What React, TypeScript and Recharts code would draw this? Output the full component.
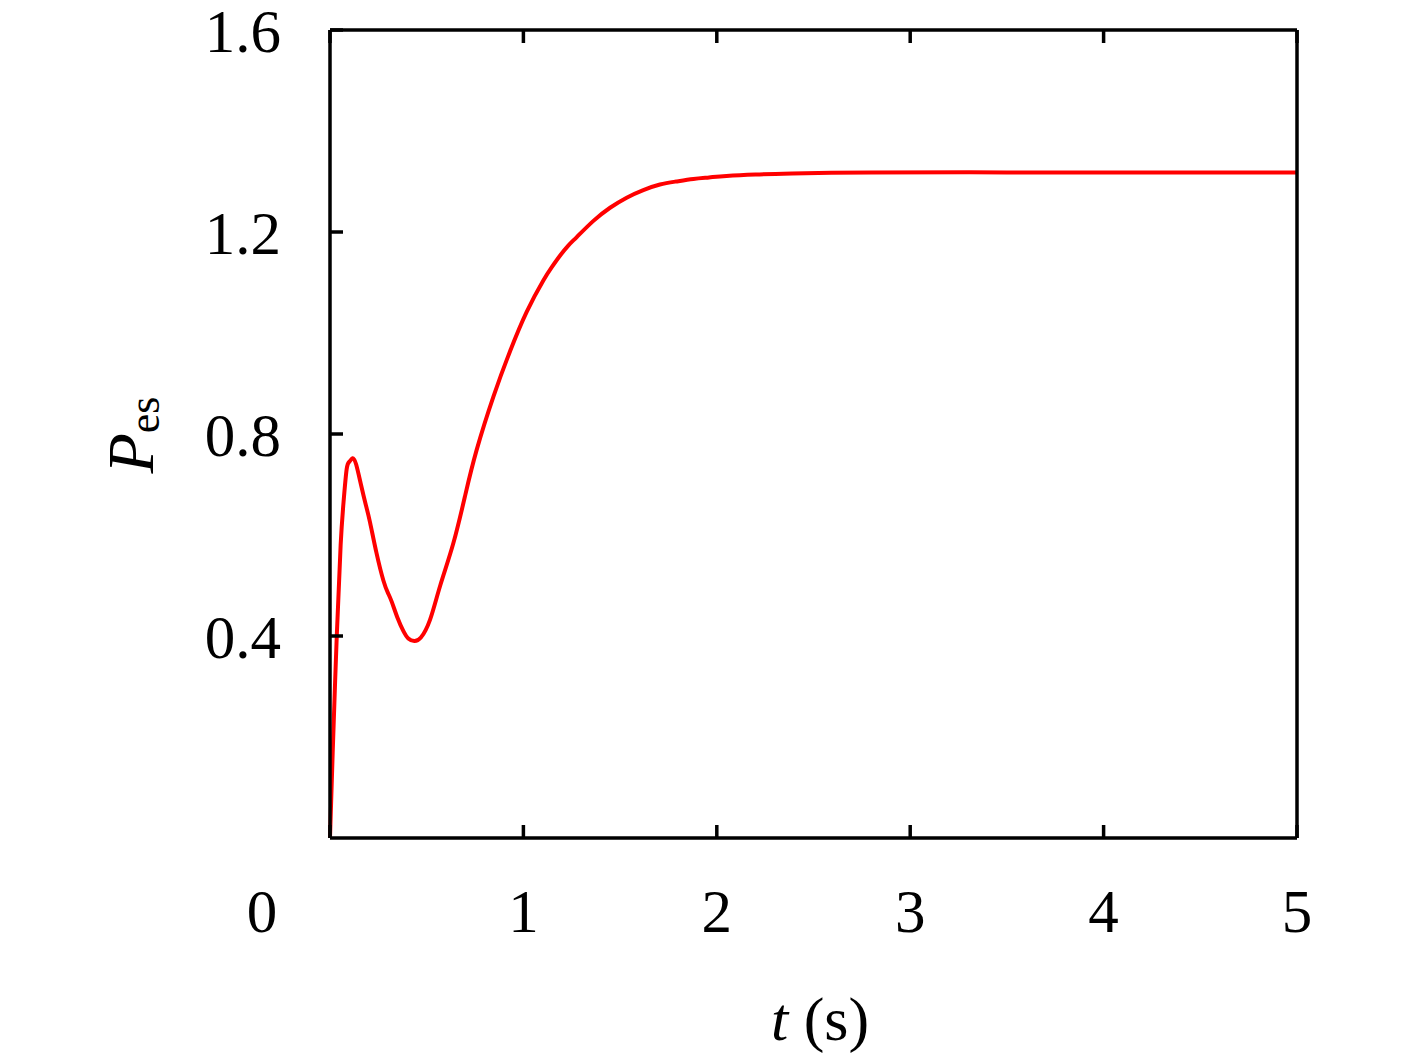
import { LineChart, Line, XAxis, YAxis } from "recharts";

// time (s) and P_es
const tValues = [
  0, 0.014, 0.035, 0.055, 0.07, 0.086, 0.1, 0.117, 0.135, 0.16, 0.185, 0.207,
  0.24, 0.276, 0.3, 0.319, 0.35, 0.379, 0.405, 0.436, 0.47, 0.517, 0.57, 0.638,
  0.7, 0.758, 0.845, 0.931, 1.017, 1.103, 1.146, 1.189, 1.232, 1.276, 1.362,
  1.448, 1.534, 1.62, 1.706, 1.79, 1.879, 1.96, 2.05, 2.2, 2.39, 2.8, 3.5, 4.2, 5,
];
const pValues = [
  0, 0.17, 0.4, 0.58, 0.665, 0.73, 0.745, 0.752, 0.74, 0.7, 0.66, 0.625, 0.565,
  0.51, 0.485, 0.468, 0.435, 0.41, 0.395, 0.39, 0.397, 0.432, 0.5, 0.584, 0.68,
  0.768, 0.874, 0.964, 1.042, 1.104, 1.13, 1.153, 1.173, 1.19, 1.222, 1.248,
  1.268, 1.283, 1.294, 1.3, 1.305, 1.308, 1.311, 1.314, 1.316, 1.318, 1.318,
  1.318, 1.318,
];

const xTicks = [0, 1, 2, 3, 4, 5];
const yTicks = [0.4, 0.8, 1.2, 1.6];

const data = tValues.map((t, i) => ({ t, p: pValues[i] }));

const FONT = '"Liberation Serif", "DejaVu Serif", serif';
const axisStyle = { stroke: "#000", strokeWidth: 3.5 };

function XTick({ x, y, payload }: any) {
  const v = payload.value;
  // the shared origin "0" sits left of the corner
  const tx = v === 0 ? x - 68 : x;
  return (
    <text x={tx} y={y + 43} textAnchor="middle" fontFamily={FONT} fontSize={61} fill="#000">
      {v}
    </text>
  );
}

function YTick({ x, y, payload }: any) {
  return (
    <text x={x} y={y + 22} textAnchor="end" fontFamily={FONT} fontSize={61} fill="#000">
      {payload.value.toFixed(1)}
    </text>
  );
}

const noTick = () => <g />;

export default function App() {
  return (
    <LineChart
      width={1409}
      height={1050}
      data={data}
      margin={{ top: 21, right: 119, bottom: 0, left: 0 }}
      style={{ overflow: "visible" }}
    >
      <XAxis
        xAxisId="bottom"
        dataKey="t"
        type="number"
        domain={[0, 5]}
        ticks={xTicks}
        height={220}
        tickSize={-13}
        tickMargin={64}
        tick={XTick}
        axisLine={axisStyle}
        tickLine={axisStyle}
        interval={0}
        label={{
          content: () => (
            <text x={812} y={1032} textAnchor="middle" fontFamily={FONT} fontSize={62} fill="#000">
              <tspan fontStyle="italic">t</tspan>
              <tspan> (s)</tspan>
            </text>
          ),
        }}
      />
      <XAxis
        xAxisId="top"
        orientation="top"
        dataKey="t"
        type="number"
        domain={[0, 5]}
        ticks={xTicks}
        height={1}
        tickSize={-13}
        tick={noTick}
        axisLine={axisStyle}
        tickLine={axisStyle}
        interval={0}
      />
      <YAxis
        yAxisId="left"
        type="number"
        domain={[0, 1.6]}
        ticks={yTicks}
        width={322}
        tickSize={-13}
        tickMargin={62}
        tick={YTick}
        axisLine={axisStyle}
        tickLine={axisStyle}
        interval={0}
        label={{
          content: () => (
            <text
              x={145}
              y={427}
              transform="rotate(-90, 145, 427)"
              textAnchor="middle"
              fontFamily={FONT}
              fill="#000"
            >
              <tspan fontStyle="italic" fontSize={66}>P</tspan>
              <tspan fontSize={44} dy={6}>es</tspan>
            </text>
          ),
        }}
      />
      <YAxis
        yAxisId="right"
        orientation="right"
        type="number"
        domain={[0, 1.6]}
        ticks={yTicks}
        width={1}
        tickSize={-13}
        tick={noTick}
        axisLine={axisStyle}
        tickLine={axisStyle}
        interval={0}
      />
      <Line
        xAxisId="bottom"
        yAxisId="left"
        dataKey="p"
        type="natural"
        stroke="#ff0000"
        strokeWidth={4}
        dot={false}
        isAnimationActive={false}
      />
    </LineChart>
  );
}
